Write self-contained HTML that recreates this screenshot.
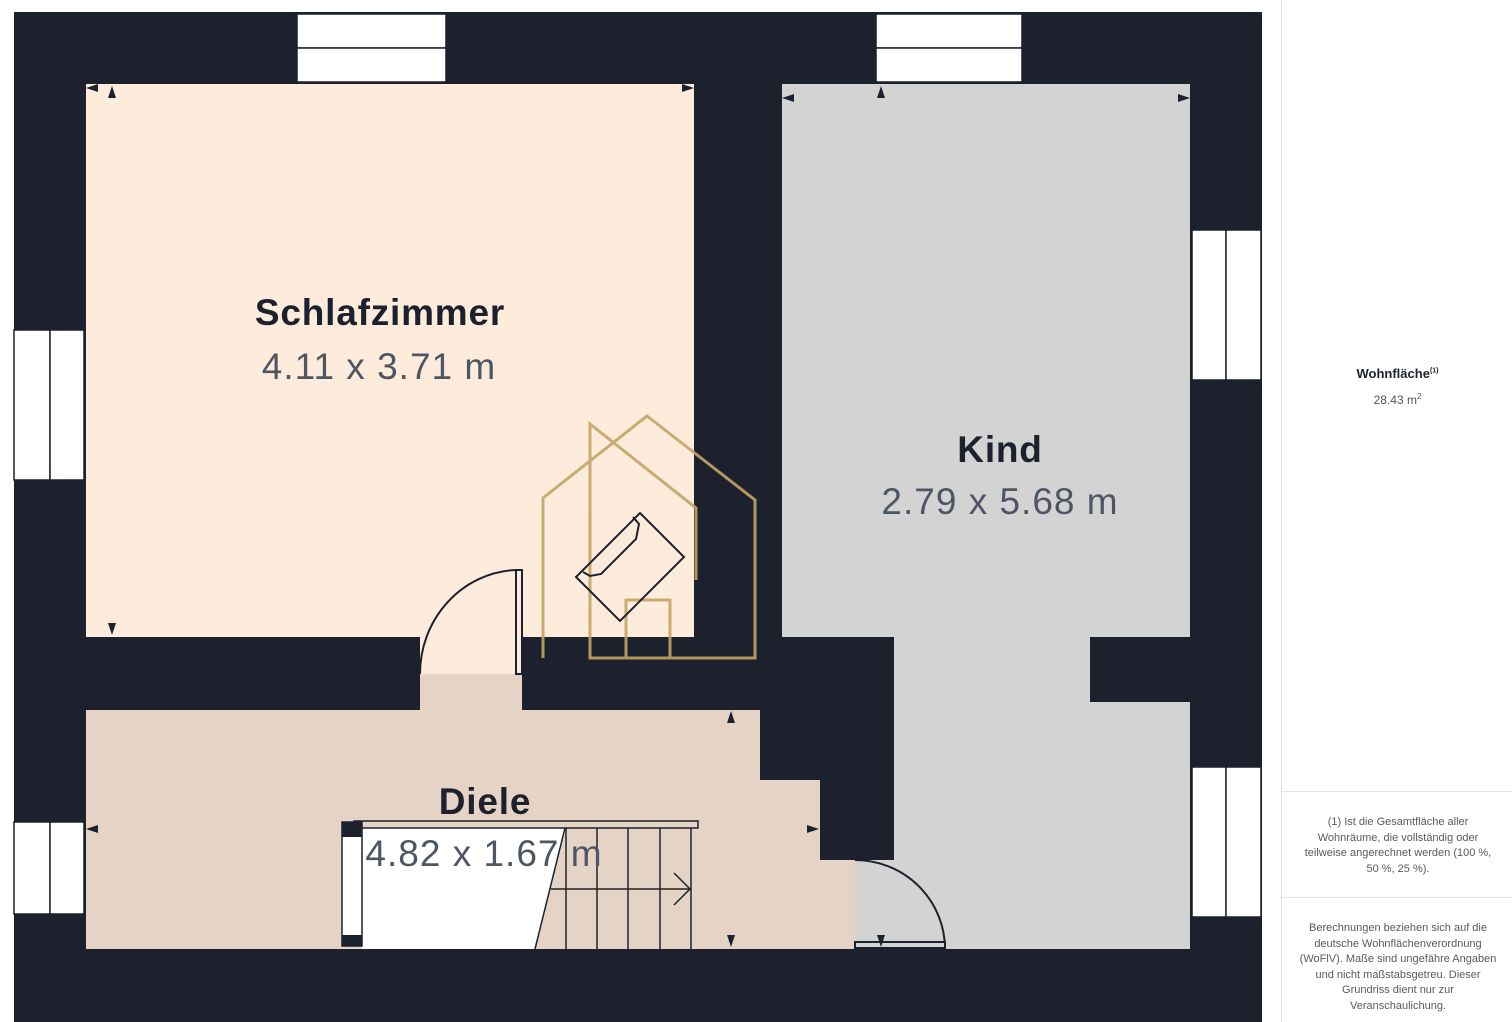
<!DOCTYPE html>
<html><head><meta charset="utf-8"><style>
html,body{margin:0;padding:0;background:#fff;width:1512px;height:1022px;overflow:hidden;font-family:"Liberation Sans",sans-serif}
svg{position:absolute;left:0;top:0}
.panel{position:absolute;left:1281px;top:0;width:231px;height:1022px;border-left:1px solid #e4e4e4;background:#fff;text-align:center;color:#555}
.t{font-size:11px;line-height:15.5px;color:#5a5a5a}
</style></head><body>
<svg width="1280" height="1022" viewBox="0 0 1280 1022">
<rect x="14" y="12" width="1248" height="1010" fill="#1c212d"/>
<!-- windows -->
<g fill="#fff" stroke="#1c212d" stroke-width="1.5">
<rect x="297" y="14" width="149" height="34"/><rect x="297" y="48" width="149" height="34"/>
<rect x="876" y="14" width="146" height="34"/><rect x="876" y="48" width="146" height="34"/>
<rect x="14" y="330" width="36" height="150"/><rect x="50" y="330" width="34" height="150"/>
<rect x="14" y="822" width="36" height="92"/><rect x="50" y="822" width="34" height="92"/>
<rect x="1192" y="230" width="34" height="150"/><rect x="1226" y="230" width="35" height="150"/>
<rect x="1192" y="767" width="34" height="150"/><rect x="1226" y="767" width="35" height="150"/>
</g>
<!-- rooms -->
<rect x="86" y="84" width="608" height="553" fill="#fdecdc"/>
<rect x="420" y="636" width="102" height="39" fill="#fdecdc"/>
<polygon points="782,84 1190,84 1190,949 855,949 855,860 894,860 894,637 782,637" fill="#d3d3d3"/>
<rect x="1090" y="637" width="101" height="65" fill="#1c212d"/>
<polygon points="86,710 420,710 420,674 522,674 522,710 760,710 760,780 820,780 820,860 855,860 855,949 86,949" fill="#e5d4c5"/>
<!-- stairs -->
<polygon points="362,828 565,828 535,949 362,949" fill="#fff"/>
<g stroke="#1c212d" stroke-width="1.5" fill="none">
<rect x="354" y="821" width="344" height="7"/>
<line x1="565" y1="828" x2="535" y2="949"/>
<line x1="566" y1="828" x2="566" y2="949"/><line x1="597" y1="828" x2="597" y2="949"/>
<line x1="628" y1="828" x2="628" y2="949"/><line x1="660" y1="828" x2="660" y2="949"/>
<line x1="691" y1="828" x2="691" y2="949"/>
<line x1="551" y1="889" x2="690" y2="889"/>
<polyline points="674,873 690,889 674,905"/>
</g>
<rect x="342" y="822" width="20" height="124" fill="#fff" stroke="#1c212d" stroke-width="1.5"/>
<rect x="342" y="822" width="20" height="15" fill="#1c212d"/>
<rect x="342" y="935" width="20" height="11" fill="#1c212d"/>
<!-- doors -->
<g stroke="#1c212d" stroke-width="2" fill="none">
<path d="M420,674 A100,104 0 0 1 516,570"/>
<rect x="516" y="570" width="6" height="104" fill="#fdecdc"/>
<path d="M855,860 A90,89 0 0 1 945,949"/>
<rect x="855" y="942" width="90" height="6" fill="#d3d3d3"/>
</g>
<!-- logo -->
<g stroke="#c4a465" stroke-width="3" fill="none" opacity="0.9">
<polyline points="543,658 543,498 647,416 755,500 755,658 590,658 590,424 696,508 696,580"/>
<polyline points="626,658 626,600 670,600 670,658"/>
</g>
<g stroke="#1c212d" stroke-width="2" fill="none">
<polygon points="640,513 684,557 620,621 576,577"/>
<polyline points="583,572 590,576 601,574 636,539 639,524 633,517"/>
</g>
<!-- markers -->
<g fill="#1c212d">
<polygon points="86,88 98,84 98,92"/><polygon points="694,88 682,84 682,92"/>
<polygon points="112,86 108,98 116,98"/><polygon points="112,635 108,623 116,623"/>
<polygon points="782,98 794,94 794,102"/><polygon points="1190,98 1178,94 1178,102"/>
<polygon points="881,86 877,98 885,98"/>
<polygon points="86,829 98,825 98,833"/><polygon points="819,829 807,825 807,833"/>
<polygon points="731,711 727,723 735,723"/><polygon points="731,947 727,935 735,935"/>
<polygon points="881,947 877,935 885,935"/>
</g>
<!-- labels -->
<g font-family="Liberation Sans, sans-serif" text-anchor="middle">
<text x="380" y="325" font-size="37" font-weight="bold" fill="#1c212d" letter-spacing="0.8">Schlafzimmer</text>
<text x="379" y="379" font-size="37" fill="#4f5663" letter-spacing="1">4.11 x 3.71 m</text>
<text x="1000" y="462" font-size="37" font-weight="bold" fill="#1c212d" letter-spacing="0.8">Kind</text>
<text x="1000" y="514" font-size="37" fill="#4f5663" letter-spacing="1">2.79 x 5.68 m</text>
<text x="485" y="814" font-size="37" font-weight="bold" fill="#1c212d" letter-spacing="0.8">Diele</text>
<text x="484" y="866" font-size="37" fill="#4f5663" letter-spacing="1">4.82 x 1.67 m</text>
</g>
</svg>
<div class="panel">
<div style="position:absolute;top:366px;width:100%;font-size:13px;font-weight:bold;color:#1c212d">Wohnfläche<sup style="font-size:7px">(1)</sup></div>
<div style="position:absolute;top:392px;width:100%;font-size:12px;color:#555">28.43 m<sup style="font-size:8px">2</sup></div>
<div style="position:absolute;top:791px;left:0;width:100%;border-top:1px solid #e4e4e4"></div>
<div class="t" style="position:absolute;top:815px;left:18px;width:196px">(1) Ist die Gesamtfläche aller Wohnräume, die vollständig oder teilweise angerechnet werden (100 %, 50 %, 25 %).</div>
<div style="position:absolute;top:897px;left:0;width:100%;border-top:1px solid #e4e4e4"></div>
<div class="t" style="position:absolute;top:921px;left:14px;width:204px">Berechnungen beziehen sich auf die deutsche Wohnflächenverordnung (WoFlV). Maße sind ungefähre Angaben und nicht maßstabsgetreu. Dieser Grundriss dient nur zur Veranschaulichung.</div>
</div>
</body></html>
